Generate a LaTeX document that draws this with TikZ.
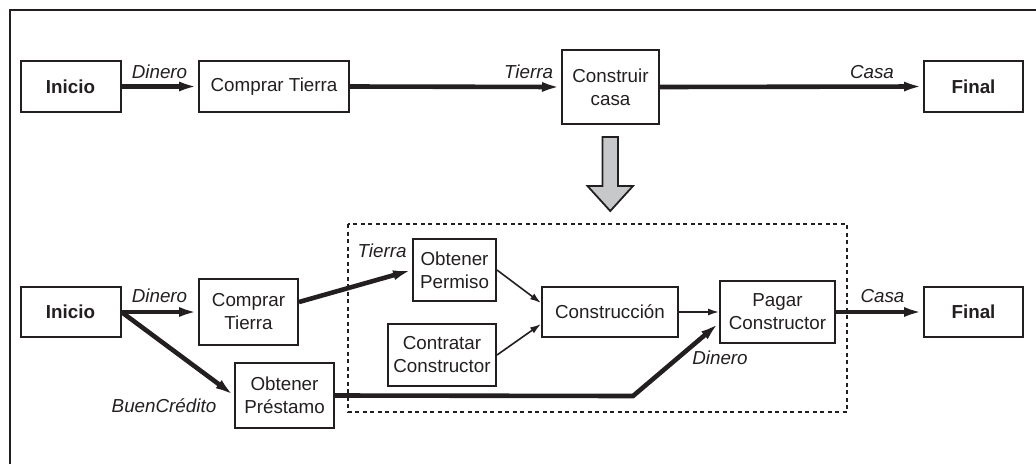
\documentclass[tikz,border=0pt]{standalone}
\usepackage{fontspec}
\setmainfont{Liberation Sans}
\usetikzlibrary{arrows.meta}
\definecolor{ink}{HTML}{231F20}
\definecolor{graybox}{HTML}{C7C8CA}
\begin{document}
\begin{tikzpicture}[x=1pt,y=-1pt,
  every node/.style={font=\fontsize{18.8}{23}\selectfont, text=ink},
  box/.style={draw=ink, line width=2pt, inner sep=0pt, align=center},
  bbox/.style={box, font=\fontsize{18.8}{23}\selectfont\bfseries},
  lbl/.style={font=\fontsize{18.8}{23}\selectfont\itshape, inner sep=0pt},
  heavy/.style={draw=ink, line width=4.6pt, -{Latex[length=19pt,width=10pt]}},
  light/.style={draw=ink, line width=1.6pt, -{Latex[length=11pt,width=7pt]}},
  frameline/.style={draw=ink, line width=1.6pt}]
\useasboundingbox (0,0) rectangle (1036,464);
% frame
\draw[frameline] (10,464) -- (10,10) -- (1036,10);
% top row
\node[bbox, minimum width=100pt, minimum height=51pt] (i1) at (70.5,86.5) {Inicio};
\node[box, minimum width=150pt, minimum height=51pt] (c1) at (274,86.5) {Comprar Tierra};
\node[box, minimum width=97pt, minimum height=74pt] (cc) at (610.5,87) {Construir\\casa};
\node[bbox, minimum width=99pt, minimum height=51pt] (f1) at (973.5,86.5) {Final};
\draw[heavy] (i1.east) -- (c1.west);
\draw[heavy] (c1.east) -- (cc.west);
\draw[heavy] (cc.east) -- (f1.west);
\node[lbl] (l1) at (159.5,72) {Dinero};
\node[lbl] (l2) at (528.5,72) {Tierra};
\node[lbl] (l3) at (872,72) {Casa};
% gray arrow
\draw[draw=ink, line width=1.8pt, fill=graybox, line join=miter]
  (602.5,137) -- (618,137) -- (618,186) -- (633,186) -- (610.25,211) -- (587.5,186) -- (602.5,186) -- cycle;
% dashed box
\draw[draw=ink, line width=2pt, dash pattern=on 4pt off 3.5pt] (348,224) rectangle (847,412);
% bottom row
\node[bbox, minimum width=100pt, minimum height=50pt] (i2) at (70.5,312) {Inicio};
\node[box, minimum width=99pt, minimum height=66pt] (c2) at (248.5,312) {Comprar\\Tierra};
\node[box, minimum width=99pt, minimum height=65pt] (p2) at (284.5,395.5) {Obtener\\Préstamo};
\node[box, minimum width=83pt, minimum height=62pt] (perm) at (454.5,270) {Obtener\\Permiso};
\node[box, minimum width=108pt, minimum height=62pt] (contr) at (442,355) {Contratar\\Constructor};
\node[box, minimum width=136pt, minimum height=50pt] (cons) at (610,312) {Construcción};
\node[box, minimum width=115pt, minimum height=62pt] (pag) at (777.5,312) {Pagar\\Constructor};
\node[bbox, minimum width=99pt, minimum height=50pt] (f2) at (973.5,312) {Final};
\coordinate (bend) at (633,396);
\draw[heavy] (i2.east) -- (c2.west);
\draw[heavy] (i2.east) -- (p2.west);
\draw[heavy] ([yshift=10pt]c2.east) -- (perm.west);
\draw[light] (perm.east) -- ([yshift=9pt]cons.west);
\draw[light] (contr.east) -- ([yshift=-12pt]cons.west);
\draw[light] (cons.east) -- (pag.west);
\draw[heavy, line join=miter] (p2.east) -- (bend) -- ([yshift=-11pt]pag.west);
\draw[heavy] (pag.east) -- (f2.west);
\node[lbl] (l4) at (159.5,296) {Dinero};
\node[lbl] (l5) at (382,251) {Tierra};
\node[lbl] (l6) at (164,406) {BuenCrédito};
\node[lbl] (l7) at (720,358) {Dinero};
\node[lbl] (l8) at (882.5,296) {Casa};
\end{tikzpicture}
\end{document}
